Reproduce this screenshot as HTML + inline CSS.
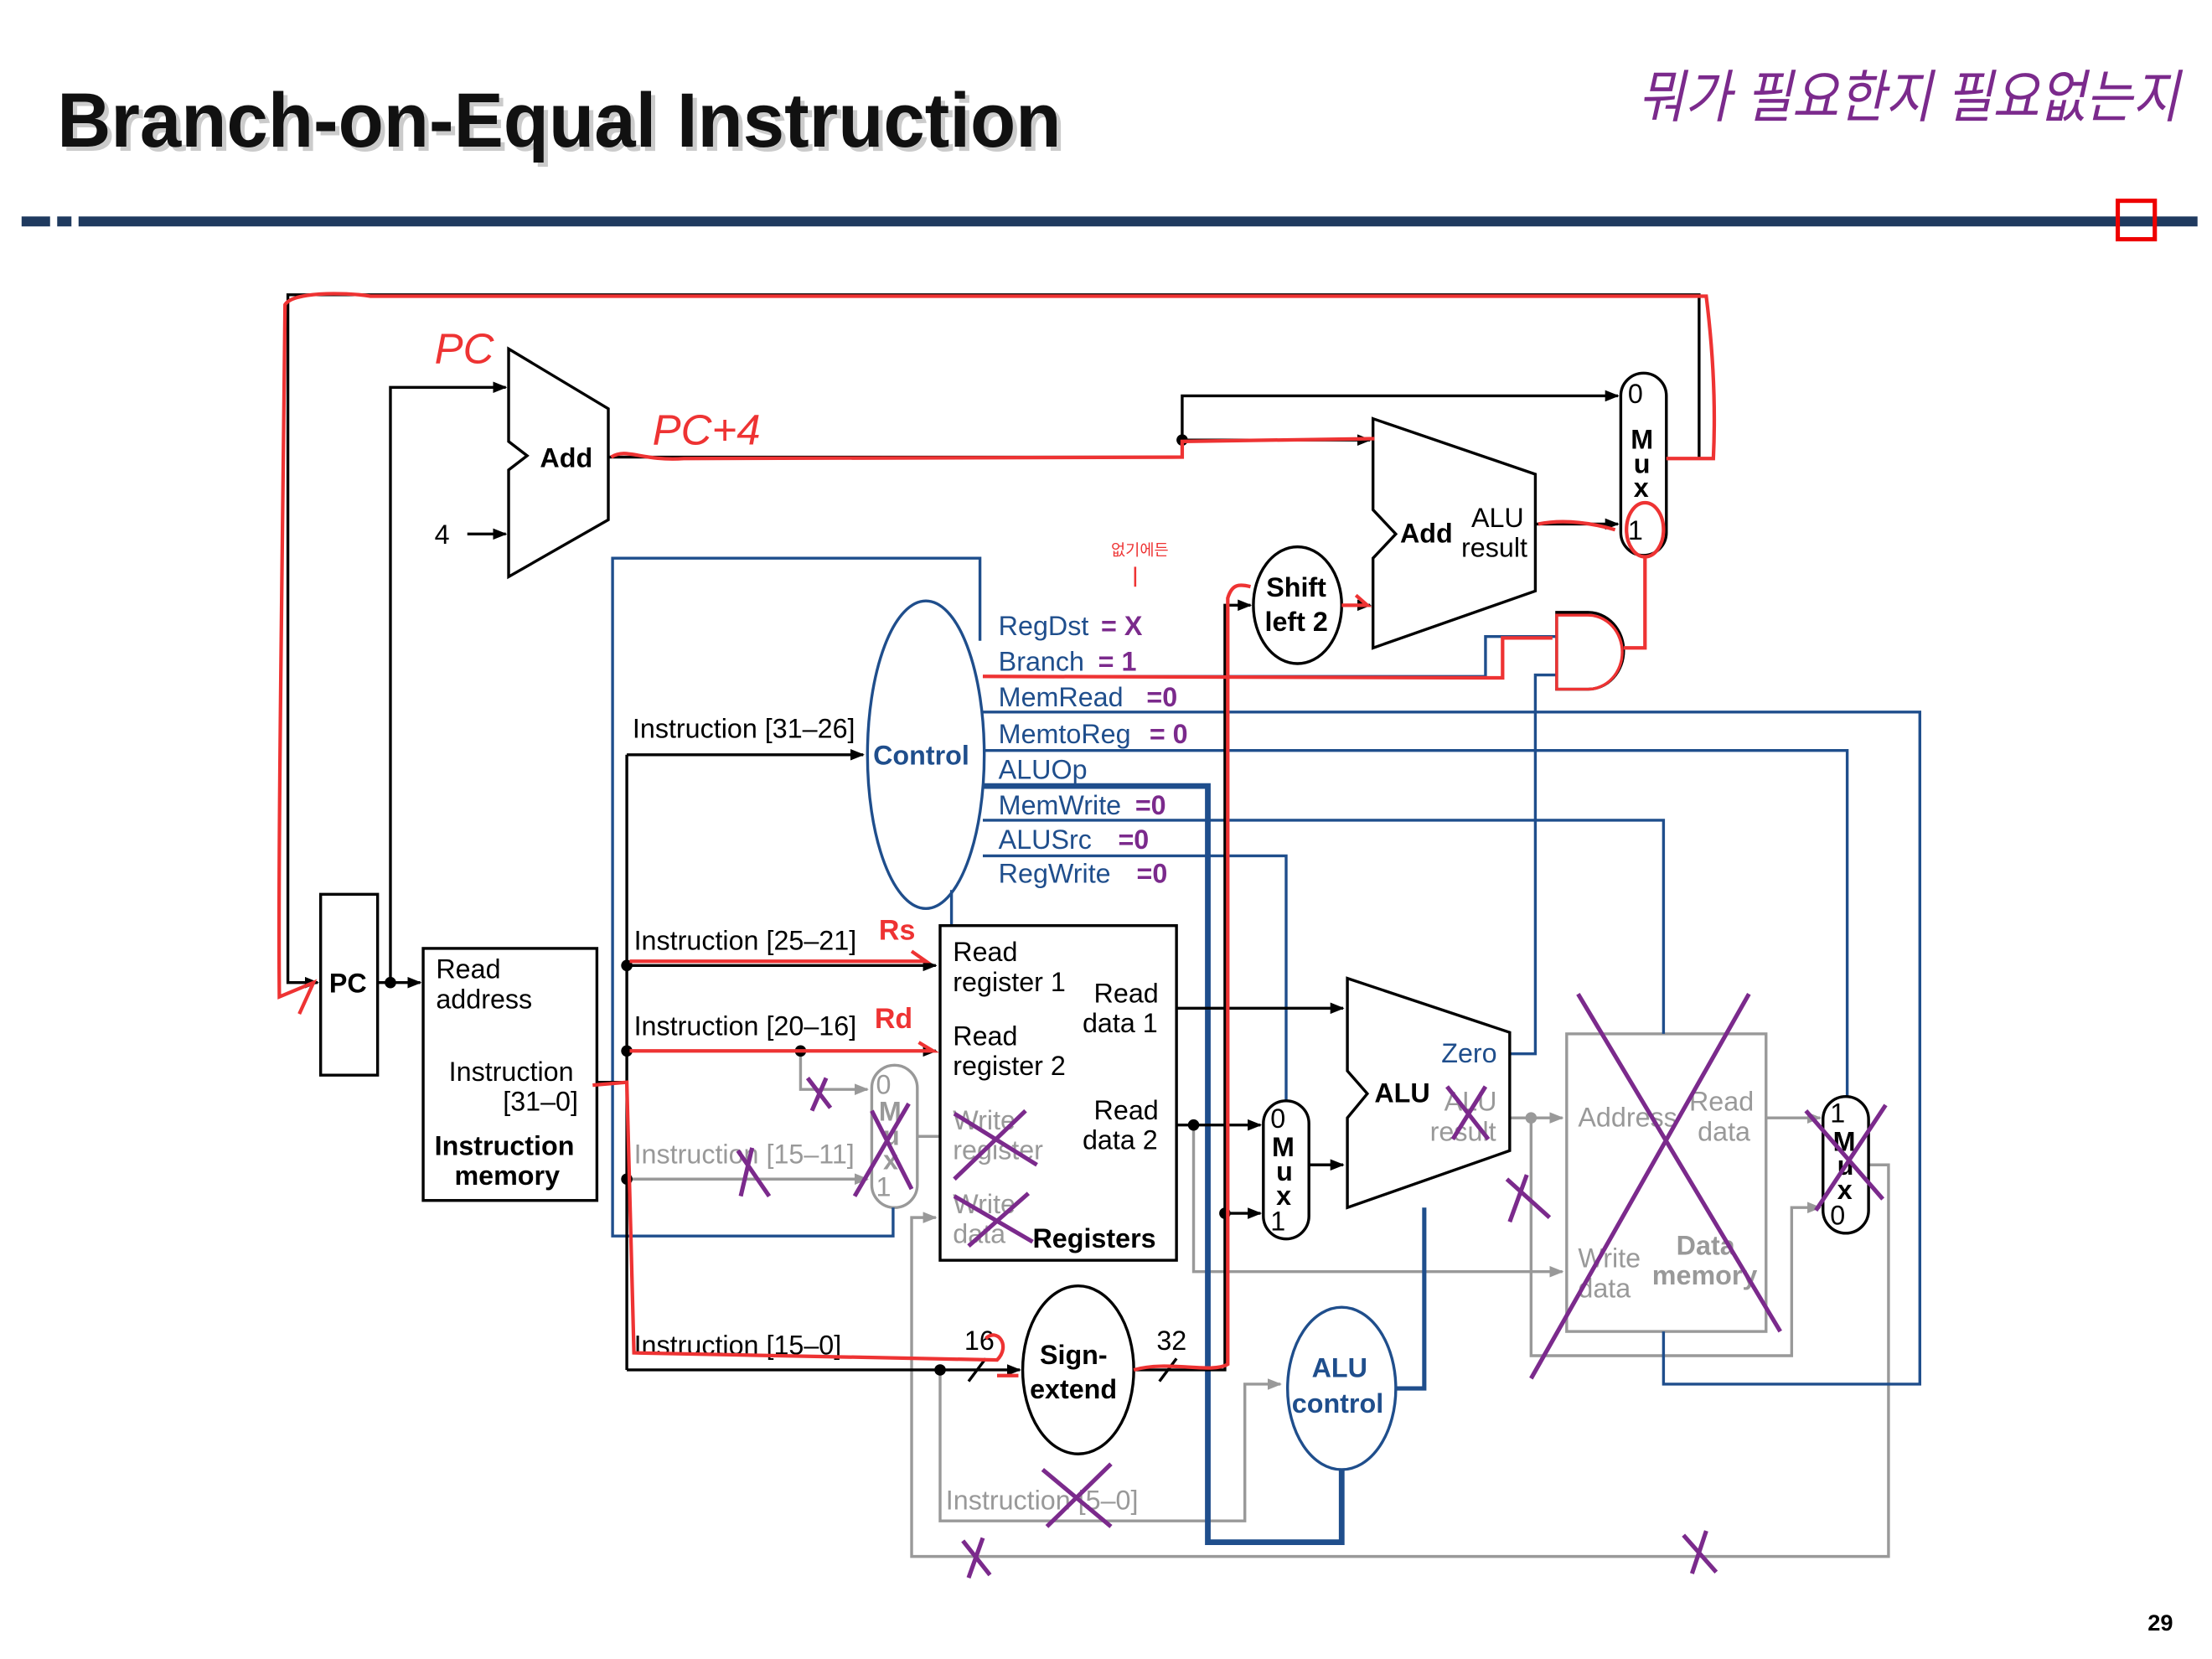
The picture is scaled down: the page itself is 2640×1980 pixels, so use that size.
<!DOCTYPE html>
<html><head><meta charset="utf-8"><style>
html,body{margin:0;padding:0;background:#fff}
svg{display:block}
text{font-family:"Liberation Sans","Noto Sans CJK KR",sans-serif}
</style></head><body>
<svg width="2640" height="1980" viewBox="0 0 1553 1165" xmlns="http://www.w3.org/2000/svg">
<defs>
<marker id="ab" markerWidth="10" markerHeight="8" refX="9" refY="4" orient="auto" markerUnits="userSpaceOnUse"><path d="M0,0 L10,4 L0,8z" fill="#000"/></marker>
<marker id="ag" markerWidth="10" markerHeight="8" refX="9" refY="4" orient="auto" markerUnits="userSpaceOnUse"><path d="M0,0 L10,4 L0,8z" fill="#999"/></marker>
</defs>
<!-- header -->
<text x="40" y="103" font-size="54" font-weight="bold" fill="#999" opacity="0.5" transform="translate(3,3)" textLength="705" lengthAdjust="spacingAndGlyphs">Branch-on-Equal Instruction</text>
<text x="40" y="103" font-size="54" font-weight="bold" fill="#111" textLength="705" lengthAdjust="spacingAndGlyphs">Branch-on-Equal Instruction</text>
<text x="1150" y="82" font-size="40" fill="#7b2a8c" font-style="italic" textLength="380" lengthAdjust="spacingAndGlyphs">뭐가 필요한지 필요없는지</text>
<rect x="15" y="152" width="20" height="7" fill="#1f3a5f"/>
<rect x="40" y="152" width="10" height="7" fill="#1f3a5f"/>
<rect x="55" y="152" width="1488" height="7" fill="#1f3a5f"/>
<rect x="1487" y="141" width="26" height="27" fill="none" stroke="#e00" stroke-width="3"/>
<text x="1508" y="1145" font-size="16" font-weight="bold">29</text>

<!-- gray lines -->
<g stroke="#999" stroke-width="2" fill="none">
<path d="M440,828 H609" marker-end="url(#ag)"/>
<path d="M562,738 V765 H609" marker-end="url(#ag)"/>
<path d="M660,962 V1068 H874 V972 H899" marker-end="url(#ag)"/>
<path d="M838,790 V893 H1097" marker-end="url(#ag)"/>
<path d="M1060,785 H1097" marker-end="url(#ag)"/>
<path d="M1075,785 V952 H1258 V848 H1278" marker-end="url(#ag)"/>
<path d="M1240,785 H1278" marker-end="url(#ag)"/>
<path d="M1312,818 H1326 V1093 H640 V855 H657" marker-end="url(#ag)"/>
<path d="M644,798 H660"/>
<rect x="1100" y="726" width="140" height="209"/>
<rect x="612" y="748" width="32" height="100" rx="16"/>
</g>
<circle cx="1075" cy="785" r="4" fill="#999"/>

<!-- blue lines -->
<g stroke="#1f4e8c" stroke-width="2" fill="none">
<path d="M688,450 V392 H430 V868 H627 V848"/>
<path d="M690,475 H1043 V447 H1093"/>
<path d="M690,500 H1348 V972 H1168 V935"/>
<path d="M690,527 H1297 V770"/>
<path d="M690,552 H848 V1083 H942 V1032" stroke-width="4"/>
<path d="M690,576 H1168 V726"/>
<path d="M690,601 H903 V773"/>
<path d="M668,625 V650"/>
<path d="M1060,740 H1078 V474 H1093"/>
<path d="M980,975 H1000 V848" stroke-width="3"/>
<ellipse cx="650" cy="530" rx="41" ry="108"/>
<ellipse cx="942" cy="975" rx="38" ry="57"/>
</g>

<!-- black lines -->
<g stroke="#000" stroke-width="2" fill="none">
<path d="M265,690 H295" marker-end="url(#ab)"/>
<path d="M274,690 V272 H355" marker-end="url(#ab)"/>
<path d="M328,375 H355" marker-end="url(#ab)"/>
<path d="M427,321 H830 V278 H1136" marker-end="url(#ab)"/>
<path d="M830,309 H962" marker-end="url(#ab)"/>
<path d="M1078,368 H1136" marker-end="url(#ab)"/>
<path d="M1170,322 H1193 V207 H202 V690 H223" marker-end="url(#ab)"/>
<path d="M942,425 H962" marker-end="url(#ab)"/>
<path d="M796,962 H860 V425 H878" marker-end="url(#ab)"/>
<path d="M419,760 H440"/>
<path d="M440,530 V962"/>
<path d="M440,530 H606" marker-end="url(#ab)"/>
<path d="M440,678 H657" marker-end="url(#ab)"/>
<path d="M440,738 H657" marker-end="url(#ab)"/>
<path d="M440,962 H716" marker-end="url(#ab)"/>
<path d="M826,708 H943" marker-end="url(#ab)"/>
<path d="M826,790 H885" marker-end="url(#ab)"/>
<path d="M860,852 H885" marker-end="url(#ab)"/>
<path d="M919,818 H943" marker-end="url(#ab)"/>
<path d="M680,970 L692,954 M814,970 L826,954"/>
<rect x="225" y="628" width="40" height="127"/>
<rect x="297" y="666" width="122" height="177"/>
<rect x="660" y="650" width="166" height="235"/>
<polygon points="357,245 427,287 427,365 357,405 357,330 370,320 357,310"/>
<polygon points="964,294 1078,333 1078,415 964,455 964,392 980,375 964,358"/>
<polygon points="946,687 1060,725 1060,808 946,848 946,785 960,768 946,752"/>
<rect x="1138" y="262" width="32" height="128" rx="16"/>
<rect x="887" y="773" width="32" height="97" rx="16"/>
<rect x="1280" y="770" width="32" height="96" rx="16"/>
<ellipse cx="911" cy="425" rx="31" ry="41"/>
<ellipse cx="757" cy="962" rx="39" ry="59"/>
<path d="M1093,430 H1115 A25,27 0 0 1 1115,484 H1093 Z"/>
</g>
<g fill="#000">
<circle cx="274" cy="690" r="4"/><circle cx="440" cy="678" r="4"/><circle cx="440" cy="738" r="4"/>
<circle cx="440" cy="828" r="4"/><circle cx="562" cy="738" r="4"/><circle cx="660" cy="962" r="4"/>
<circle cx="838" cy="790" r="4"/><circle cx="860" cy="852" r="4"/><circle cx="830" cy="309" r="4"/>
</g>

<!-- black text -->
<g font-size="19" fill="#000">
<text x="231" y="697" font-weight="bold">PC</text>
<text x="306" y="687">Read</text><text x="306" y="708">address</text>
<text x="315" y="759">Instruction</text><text x="353" y="780">[31–0]</text>
<text x="305" y="811" font-weight="bold">Instruction</text><text x="319" y="832" font-weight="bold">memory</text>
<text x="379" y="328" font-weight="bold">Add</text>
<text x="305" y="382">4</text>
<text x="983" y="381" font-weight="bold">Add</text>
<text x="1033" y="370">ALU</text><text x="1026" y="391">result</text>
<text x="1143" y="283">0</text><text x="1145" y="315" font-weight="bold">M</text><text x="1147" y="332" font-weight="bold">u</text><text x="1147" y="349" font-weight="bold">x</text><text x="1143" y="379">1</text>
<text x="889" y="419" font-weight="bold">Shift</text><text x="888" y="443" font-weight="bold">left 2</text>
<text x="444" y="518">Instruction [31–26]</text>
<text x="445" y="667">Instruction [25–21]</text>
<text x="445" y="727">Instruction [20–16]</text>
<text x="445" y="951">Instruction [15–0]</text>
<text x="669" y="675">Read</text><text x="669" y="696">register 1</text>
<text x="768" y="704">Read</text><text x="760" y="725">data 1</text>
<text x="669" y="734">Read</text><text x="669" y="755">register 2</text>
<text x="768" y="786">Read</text><text x="760" y="807">data 2</text>
<text x="725" y="876" font-weight="bold">Registers</text>
<text x="965" y="774" font-weight="bold">ALU</text>
<text x="892" y="792">0</text><text x="893" y="812" font-weight="bold">M</text><text x="896" y="829" font-weight="bold">u</text><text x="896" y="846" font-weight="bold">x</text><text x="892" y="864">1</text>
<text x="730" y="958" font-weight="bold">Sign-</text><text x="723" y="982" font-weight="bold">extend</text>
<text x="677" y="948">16</text><text x="812" y="948">32</text>
<text x="1285" y="788">1</text><text x="1287" y="808" font-weight="bold">M</text><text x="1290" y="825" font-weight="bold">u</text><text x="1290" y="842" font-weight="bold">x</text><text x="1285" y="860">0</text>
</g>
<!-- gray text -->
<g font-size="19" fill="#999">
<text x="445" y="817">Instruction [15–11]</text>
<text x="615" y="768">0</text><text x="617" y="787" font-weight="bold">M</text><text x="620" y="804" font-weight="bold">u</text><text x="620" y="821" font-weight="bold">x</text><text x="615" y="840">1</text>
<text x="669" y="793">Write</text><text x="669" y="814">register</text>
<text x="669" y="852">Write</text><text x="669" y="873">data</text>
<text x="1014" y="780">ALU</text><text x="1004" y="801">result</text>
<text x="1108" y="791">Address</text>
<text x="1186" y="780">Read</text><text x="1192" y="801">data</text>
<text x="1108" y="890">Write</text><text x="1108" y="911">data</text>
<text x="1177" y="881" font-weight="bold">Data</text><text x="1160" y="902" font-weight="bold">memory</text>
<text x="664" y="1060">Instruction [5–0]</text>
</g>
<!-- blue text -->
<g font-size="19" fill="#1f4e8c">
<text x="613" y="537" font-weight="bold">Control</text>
<text x="701" y="446">RegDst</text><text x="701" y="471">Branch</text><text x="701" y="496">MemRead</text>
<text x="701" y="522">MemtoReg</text><text x="701" y="547">ALUOp</text><text x="701" y="572">MemWrite</text>
<text x="701" y="596">ALUSrc</text><text x="701" y="620">RegWrite</text>
<text x="1012" y="746">Zero</text>
<text x="921" y="967" font-weight="bold">ALU</text><text x="907" y="992" font-weight="bold">control</text>
</g>
<!-- purple annotations -->
<g font-size="19" fill="#7b2a8c" font-weight="bold">
<text x="773" y="446">= X</text><text x="771" y="471">= 1</text><text x="805" y="496">=0</text>
<text x="807" y="522">= 0</text><text x="797" y="572">=0</text><text x="785" y="596">=0</text><text x="798" y="620">=0</text>
</g>
<g stroke="#7b2a8c" stroke-width="3" fill="none">
<path d="M1108,698 L1250,935 M1228,698 L1075,968"/>
<path d="M1268,780 L1322,842 M1324,776 L1275,850"/>
<path d="M1016,763 L1045,800 M1043,763 L1020,800"/>
<path d="M1058,828 L1088,855 M1072,825 L1060,858"/>
<path d="M612,780 L640,835 M638,775 L600,840"/>
<path d="M670,782 L728,818 M720,780 L670,828"/>
<path d="M670,840 L725,872 M722,838 L680,875"/>
<path d="M518,808 L540,840 M528,806 L520,840"/>
<path d="M567,757 L583,778 M580,757 L570,780"/>
<path d="M732,1032 L780,1072 M780,1028 L735,1072"/>
<path d="M676,1082 L695,1106 M690,1080 L680,1108"/>
<path d="M1182,1078 L1205,1104 M1198,1075 L1188,1105"/>
</g>
<text x="780" y="390" font-size="11" fill="#e33">없기에든</text>
<path d="M797,398 V412" stroke="#e33" stroke-width="1.5"/>
<!-- red overlays -->
<g stroke="#e33" stroke-width="2.5" fill="none">
<path d="M429,321 C440,314 450,324 480,322 L830,321 V310 L965,308"/>
<path d="M1080,368 C1100,364 1120,368 1134,372"/>
<path d="M1170,322 H1203 C1205,280 1202,240 1198,208 L260,208 C240,205 205,205 200,214 C198,400 195,600 196,700 L220,690 L210,712"/>
<ellipse cx="1155" cy="372" rx="13" ry="19"/>
<path d="M1155,390 V455 H1140"/>
<path d="M1093,432 H1115 A24,26 0 0 1 1115,484 H1093 Z" stroke-width="2"/>
<path d="M690,475 L1055,476 L1055,448 L1090,448"/>
<path d="M416,762 L440,760 L445,950 L700,955 C710,945 700,932 692,940 M700,966 H715"/>
<path d="M442,675 H650 L640,668 M442,738 H655 L645,732"/>
<path d="M796,962 C820,955 850,965 862,958 V420 C865,410 870,410 878,412 M942,425 H960 L952,418"/>
</g>
<g font-size="30" fill="#e33" font-style="italic">
<text x="305" y="255">PC</text><text x="458" y="312">PC+4</text>
</g>
<g font-size="20" fill="#e33" font-weight="bold"><text x="617" y="660">Rs</text><text x="614" y="722">Rd</text></g>
</svg>
</body></html>
